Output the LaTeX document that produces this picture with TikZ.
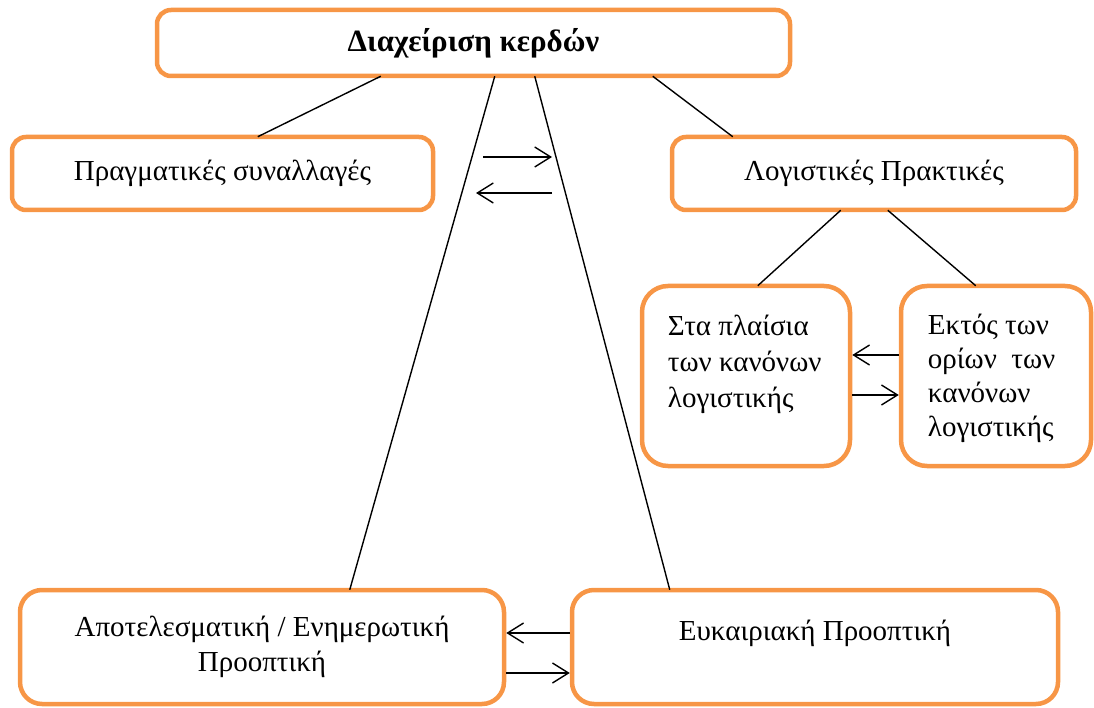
\documentclass[tikz,border=0pt]{standalone}
\usepackage{fontspec}
\setmainfont{Liberation Serif}
\usetikzlibrary{arrows.meta}
\definecolor{boxorange}{HTML}{F79646}

\tikzset{
  box/.style={draw=boxorange, line width=4.5pt, rounded corners=14pt,
    inner sep=0pt, align=center},
  tall/.style={box, rounded corners=26pt, minimum height=180pt},
  txt/.style={inner sep=0pt, align=left},
  link/.style={line width=1.4pt},
  flow/.style={line width=1.4pt, -{Straight Barb[length=16pt,width=20pt,line width=1.4pt]}}
}

\begin{document}
\begin{tikzpicture}[x=1pt, y=-1pt, font=\fontsize{29}{35}\selectfont]
\useasboundingbox (0,0) rectangle (1094,708);
\clip (0,0) rectangle (1094,708);

% boxes
\node[box, minimum width=633pt, minimum height=66pt] (top) at (473.5,43)
  {\fontsize{31}{35}\selectfont\textbf{Διαχείριση κερδών}};
\node[box, minimum width=421pt, minimum height=73pt] (real) at (222.5,173.5) {Πραγματικές συναλλαγές};
\node[box, minimum width=404pt, minimum height=73pt] (acct) at (874,173.5) {Λογιστικές Πρακτικές};
\node[tall, minimum width=208pt] (rules) at (746,376) {};
\node[tall, minimum width=190pt] (beyond) at (996,376) {};
\node[box, rounded corners=22pt, minimum width=484pt, minimum height=114pt] (results) at (262,647)
  {Αποτελεσματική / Ενημερωτική\\Προοπτική};
\node[box, rounded corners=22pt, minimum width=486pt, minimum height=114pt] (chance) at (815,647) {};

% texts
\node[txt, anchor=north west, font=\fontsize{29}{36}\selectfont] (rulestxt)
  at ([shift={(28,31)}]rules.north west) {Στα πλαίσια\\των κανόνων\\λογιστικής};
\node[txt, anchor=north west, font=\fontsize{29}{34}\selectfont] (beyondtxt)
  at ([shift={(29,30)}]beyond.north west) {Εκτός των\\ορίων\ \ των\\κανόνων\\λογιστικής};
\node[txt] (chancetxt) at ([yshift=14pt]chance.center) {Ευκαιριακή Προοπτική};

% links
\draw[link] ([shift={(226,-2)}]top.south west) -- ([shift={(248,2)}]real.north west);
\draw[link] ([shift={(498,-2)}]top.south west) -- ([shift={(63,2)}]acct.north west);
\draw[link] ([shift={(171,-2)}]acct.south west) -- ([shift={(118,2)}]rules.north west);
\draw[link] ([shift={(218,-2)}]acct.south west) -- ([shift={(77,2)}]beyond.north west);
\draw[link] ([shift={(340,-2)}]top.south west) -- ([shift={(332,2)}]results.north west);
\draw[link] ([shift={(380,-2)}]top.south west) -- ([shift={(100,2)}]chance.north west);

% arrows
\coordinate (a1) at (483,157);
\coordinate (a2) at (552,157);
\coordinate (b1) at (552,193);
\coordinate (b2) at (476,193);
\draw[flow] (a1) -- (a2);
\draw[flow] (b1) -- (b2);
\draw[flow] ([yshift=21pt]beyond.west) -- ([yshift=21pt]rules.east);
\draw[flow] ([yshift=-19pt]rules.east) -- ([yshift=-19pt]beyond.west);
\draw[flow] ([yshift=14pt]chance.west) -- ([yshift=14pt]results.east);
\draw[flow] ([yshift=-26pt]results.east) -- ([yshift=-26pt]chance.west);
\end{tikzpicture}
\end{document}
